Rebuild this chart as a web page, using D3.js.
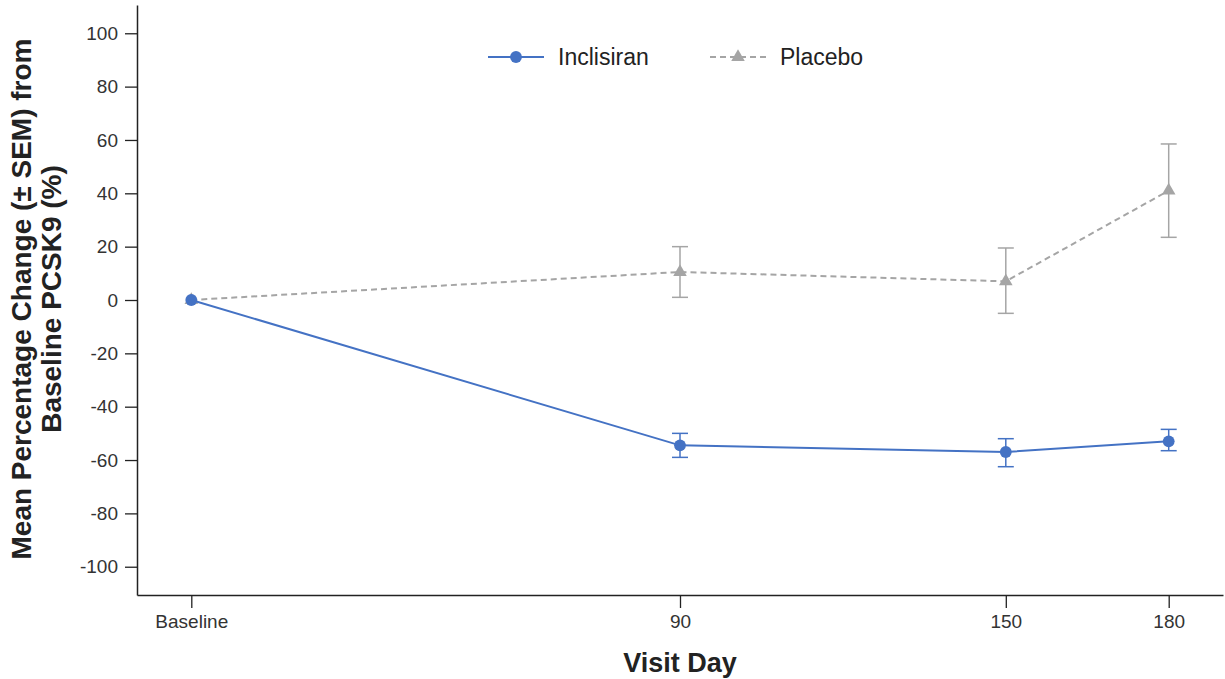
<!DOCTYPE html>
<html>
<head>
<meta charset="utf-8">
<script src="https://cdn.jsdelivr.net/npm/d3@7"></script>
<style>
  body { margin: 0; background: #fff; }
  text { font-family: "Liberation Sans", Arial, sans-serif; }
</style>
</head>
<body>
<svg id="chart" width="1225" height="679"></svg>
<script>
// visit days and labels
let days = [0, 90, 150, 180];
let dayLabels = ['Baseline', '90', '150', '180'];

// mean % change and SEM bounds
let inclisiranMean = [0, -54.5, -57, -53];
let inclisiranLow = [0, -59, -62.5, -56.5];
let inclisiranHigh = [0, -50, -52, -48.5];

let placeboMean = [0, 10.5, 7, 41];
let placeboLow = [0, 1, -5, 23.5];
let placeboHigh = [0, 20, 19.5, 58.5];

let yTicks = [100, 80, 60, 40, 20, 0, -20, -40, -60, -80, -100];

let Colors = {
    Inclisiran: '#4472C4',
    Placebo: '#A5A5A5',
    Text: '#333'
};

let svg = d3.select('#chart');

let x = d3.scaleLinear().domain([-10, 190]).range([137, 1223]);
let y = d3.scaleLinear().domain([-110.6, 110.6]).range([595, 5]);

// axes
let xAxis = svg.append('g')
    .attr('transform', `translate(0,${y(-110.6)})`)
    .call(d3.axisBottom(x).tickValues(days).tickFormat((d, i) => dayLabels[i]).tickSize(13).tickPadding(7).tickSizeOuter(0));
let yAxis = svg.append('g')
    .attr('transform', `translate(${x(-10)},0)`)
    .call(d3.axisLeft(y).tickValues(yTicks).tickFormat(d => String(d)).tickSize(12).tickPadding(7).tickSizeOuter(0));

[xAxis, yAxis].forEach(ax => {
    ax.select('.domain').attr('stroke', '#222').attr('stroke-width', 1.5);
    ax.selectAll('.tick line').attr('stroke', '#222').attr('stroke-width', 1.3);
    ax.selectAll('.tick text')
        .attr('fill', Colors.Text)
        .style('font-size', '19px')
        .style('font-family', '"Liberation Sans", Arial, sans-serif');
});

// axis titles
svg.append('text')
    .attr('x', 680).attr('y', 672)
    .attr('text-anchor', 'middle')
    .attr('fill', '#222')
    .style('font-size', '27px').style('font-weight', 'bold')
    .text('Visit Day');

let yTitle = svg.append('text')
    .attr('transform', 'translate(0,299) rotate(-90)')
    .attr('text-anchor', 'middle')
    .attr('fill', '#222')
    .style('font-size', '28px').style('font-weight', 'bold');
yTitle.append('tspan').attr('x', 0).attr('y', 31).text('Mean Percentage Change (± SEM) from');
yTitle.append('tspan').attr('x', 0).attr('y', 61).text('Baseline PCSK9 (%)');

let series = [
    { name: 'Inclisiran', mean: inclisiranMean, low: inclisiranLow, high: inclisiranHigh, color: Colors.Inclisiran, dash: null, symbol: d3.symbolCircle, size: 110 },
    { name: 'Placebo', mean: placeboMean, low: placeboLow, high: placeboHigh, color: Colors.Placebo, dash: '6,4', symbol: d3.symbolTriangle, size: 80 }
];

let line = d3.line().x(d => x(d.day)).y(d => y(d.v));

// draw placebo first so inclisiran sits on top at baseline
series.slice().reverse().forEach(s => {
    let pts = days.map((d, i) => ({ day: d, v: s.mean[i], lo: s.low[i], hi: s.high[i] }));
    let g = svg.append('g');

    // error bars (skip baseline)
    let eb = g.selectAll('.eb').data(pts.filter(p => p.day > 0)).join('g');
    eb.append('line')
        .attr('x1', p => x(p.day)).attr('x2', p => x(p.day))
        .attr('y1', p => y(p.lo)).attr('y2', p => y(p.hi))
        .attr('stroke', s.color).attr('stroke-width', 1.5);
    ['lo', 'hi'].forEach(k => {
        eb.append('line')
            .attr('x1', p => x(p.day) - 8).attr('x2', p => x(p.day) + 8)
            .attr('y1', p => y(p[k])).attr('y2', p => y(p[k]))
            .attr('stroke', s.color).attr('stroke-width', 1.5);
    });

    g.append('path')
        .datum(pts)
        .attr('d', line)
        .attr('fill', 'none')
        .attr('stroke', s.color)
        .attr('stroke-width', 2)
        .attr('stroke-dasharray', s.dash);

    g.selectAll('.mk').data(pts).join('path')
        .attr('transform', p => `translate(${x(p.day)},${y(p.v)})`)
        .attr('d', d3.symbol().type(s.symbol).size(s.size))
        .attr('fill', s.color);
});

// legend
let legendItems = [
    { s: series[0], x0: 488, tx: 558 },
    { s: series[1], x0: 710, tx: 780 }
];
legendItems.forEach(it => {
    let lg = svg.append('g').attr('transform', `translate(${it.x0},57)`);
    lg.append('line')
        .attr('x1', 0).attr('x2', 56).attr('y1', 0).attr('y2', 0)
        .attr('stroke', it.s.color).attr('stroke-width', 2)
        .attr('stroke-dasharray', it.s.dash);
    lg.append('path')
        .attr('transform', 'translate(28,0)')
        .attr('d', d3.symbol().type(it.s.symbol).size(it.s.size))
        .attr('fill', it.s.color);
    svg.append('text')
        .attr('x', it.tx).attr('y', 65)
        .attr('fill', '#222')
        .style('font-size', '23px')
        .text(it.s.name);
});
</script>
</body>
</html>
